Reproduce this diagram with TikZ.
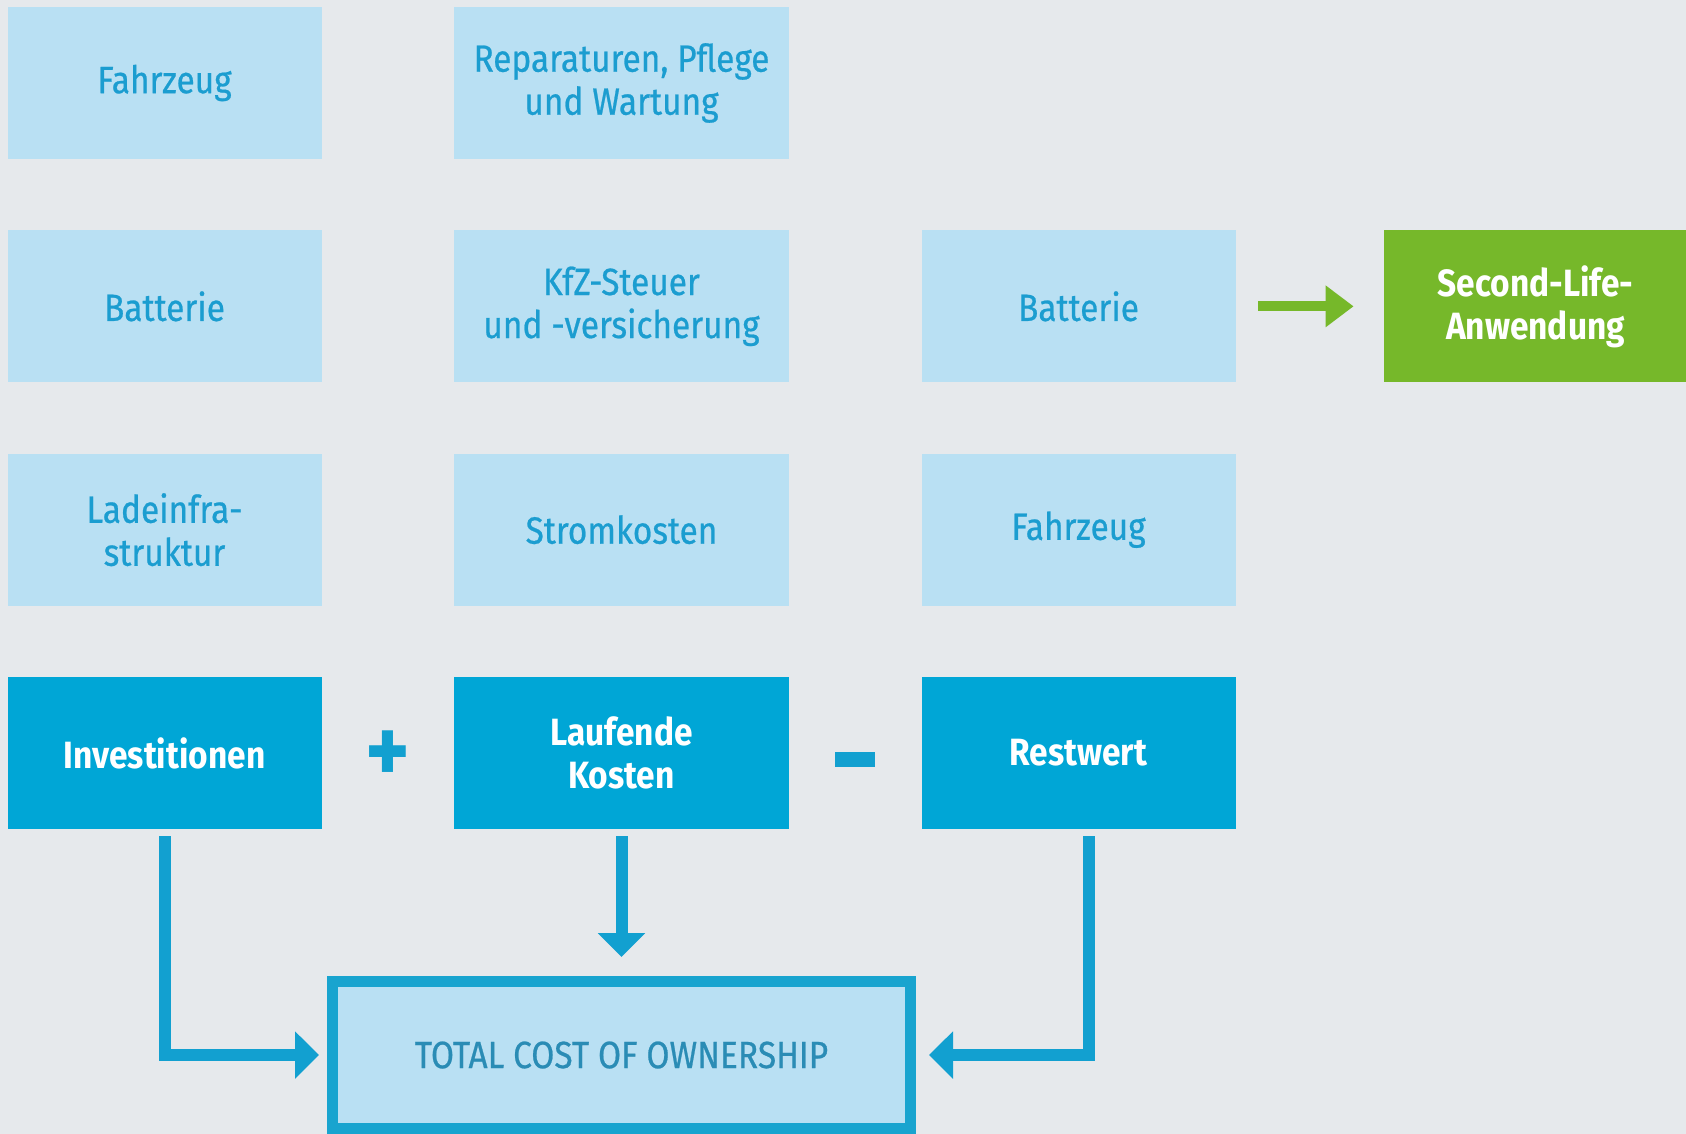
\documentclass[tikz,border=0pt]{standalone}
\usepackage{fontspec}
\setmainfont{Fira Sans}[FakeStretch=0.88]
\newfontfamily\medfont{Fira Sans}[FakeStretch=0.88, FakeBold=0.6]
\usetikzlibrary{shapes,arrows.meta,positioning}
\definecolor{bggray}{HTML}{E6E9EC}
\definecolor{boxlight}{HTML}{B9E0F3}
\definecolor{textblue}{HTML}{1B9DD0}
\definecolor{boxdark}{HTML}{00A6D6}
\definecolor{arrowblue}{HTML}{12A0D0}
\definecolor{leafgreen}{HTML}{76B82A}
\definecolor{tcoborder}{HTML}{18A4CF}
\definecolor{tcotext}{HTML}{2A8CB5}
\tikzstyle{cost} = [rectangle, fill=boxlight, text=textblue, text centered, align=center,
    minimum width=157pt, minimum height=76pt, inner sep=0pt, font=\medfont\fontsize{19}{21.5}\selectfont]
\tikzstyle{wide} = [minimum width=167.5pt]
\tikzstyle{group} = [cost, fill=boxdark, text=white, font=\normalfont\fontsize{19}{21.5}\selectfont\bfseries]
\tikzstyle{reuse} = [cost, fill=leafgreen, text=white, minimum width=152pt,
    font=\normalfont\fontsize{19}{21.5}\selectfont\bfseries]
\tikzstyle{total} = [rectangle, draw=tcoborder, line width=5.5pt, fill=boxlight, text=tcotext,
    minimum width=289pt, minimum height=73.5pt, inner sep=0pt, font=\medfont\fontsize{19}{22}\selectfont]
\tikzstyle{plus} = [text=arrowblue, inner sep=0pt, font=\fontsize{48}{48}\selectfont\bfseries]
\tikzstyle{minus} = [fill=arrowblue, minimum width=20pt, minimum height=7.5pt, inner sep=0pt]
\tikzstyle{line} = [draw=arrowblue, line width=6pt, -{Triangle[length=12pt,width=23pt]}]
\tikzstyle{greenline} = [draw=leafgreen, line width=5pt, -{Triangle[length=14pt,width=20pt]}]
\begin{document}
\begin{tikzpicture}[x=0.5pt, y=-0.5pt, node distance=111.67pt]

        % Background
        \fill [bggray] (0,0) rectangle (1686,1134);
        \useasboundingbox (0,0) rectangle (1686,1134);

        % Place nodes
        \node [cost] (fzg) at (164.5,83) {Fahrzeug};
        \node [cost, below of=fzg] (batt) {Batterie};
        \node [cost, below of=batt] (lade) {Ladeinfra-\\struktur};
        \node [group, below of=lade] (inv) {Investitionen};
        \node [cost, wide, right of=fzg, node distance=228.5pt] (rep) {Reparaturen, Pflege\\und Wartung};
        \node [cost, wide, below of=rep] (kfz) {KfZ-Steuer\\und -versicherung};
        \node [cost, wide, below of=kfz] (strom) {Stromkosten};
        \node [group, wide, below of=strom] (lauf) {Laufende\\Kosten};
        \node [cost, right of=kfz, node distance=228.5pt] (restbatt) {Batterie};
        \node [cost, below of=restbatt] (restfzg) {Fahrzeug};
        \node [group, below of=restfzg] (rest) {Restwert};
        \node [reuse, right of=restbatt, node distance=228.5pt] (second) {Second-Life-\\Anwendung};
        \node [total, below of=lauf, node distance=151pt] (tco) {TOTAL COST OF OWNERSHIP};

        % Signs
        \path (inv.east) -- node [plus, yshift=-2pt] (add) {+} (lauf.west);
        \path (lauf.east) -- node [minus, yshift=-3pt] (sub) {} (rest.west);

        % Draw edges
        \path [line, shorten <=3.5pt, shorten >=4pt] (inv.south) |- (tco.west);
        \path [line, shorten <=3.5pt, shorten >=9.5pt] (lauf.south) -- (tco.north);
        \path [line, shorten <=3.5pt, shorten >=6.5pt] ([xshift=5pt]rest.south) |- (tco.east);
        \path [greenline, shorten <=11.25pt, shorten >=14.75pt] (restbatt.east) -- (second.west);

    \end{tikzpicture}
\end{document}
